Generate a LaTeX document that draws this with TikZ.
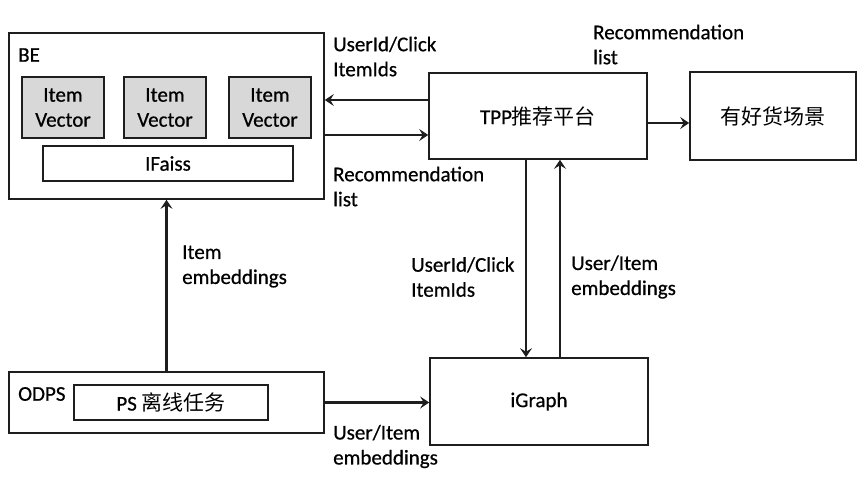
\documentclass[tikz,border=0pt]{standalone}
\usepackage{fontspec}
\setmainfont{Carlito}[FakeBold=0.6]
\newfontfamily\cjk{Noto Sans CJK SC}
\usetikzlibrary{arrows.meta}
\definecolor{ln}{HTML}{1E1E1E}
\definecolor{vecfill}{HTML}{D8D8D8}
\begin{document}
\begin{tikzpicture}[x=1pt,y=-1pt,
  every node/.style={font=\fontsize{21pt}{25pt}\selectfont, text=black},
  box/.style={draw=ln, line width=1.6pt, inner sep=0pt, fill=white},
  vecbox/.style={box, fill=vecfill, minimum width=82pt, minimum height=61pt, align=center},
  lbl/.style={anchor=west, align=left, inner sep=0pt},
  arr/.style={draw=ln, line width=2.4pt, -{Stealth[length=9pt,width=12pt,inset=3.5pt]}}]
\useasboundingbox (0,0) rectangle (865,485);
\fill[white] (0,0) rectangle (865,485);

% BE
\node[box, minimum width=315pt, minimum height=166pt] (be) at (166.5,116) {};
\node[lbl] (betxt) at (18,55) {BE};
\node[vecbox] (v1) at (63,107.5) {Item\\Vector};
\node[vecbox] (v2) at (165,107.5) {Item\\Vector};
\node[vecbox] (v3) at (270,107.5) {Item\\Vector};
\node[box, minimum width=250pt, minimum height=35pt] (ifaiss) at (168,163.5) {IFaiss};

% TPP and scene
\node[box, minimum width=218pt, minimum height=86pt] (tpp) at (538,116) {TPP{\cjk 推荐平台}};
\node[box, minimum width=166pt, minimum height=88pt] (scene) at (773,116) {{\cjk 有好货场景}};

% iGraph
\node[box, minimum width=218pt, minimum height=87pt] (ig) at (539,401.5) {iGraph};

% ODPS
\node[box, minimum width=315pt, minimum height=61pt] (odps) at (166.5,402.5) {};
\node[lbl] (odpstxt) at (18,394) {ODPS};
\node[box, minimum width=194pt, minimum height=35pt] (ps) at (171,402.5) {PS {\cjk 离线任务}};

% arrows
\draw[arr] ([yshift=16pt]tpp.west) -- ([yshift=16pt]be.east |- tpp.west);
\draw[arr] ([yshift=-19pt]be.east |- tpp.west) -- ([yshift=-19pt]tpp.west);
\draw[arr] ([yshift=-7pt]tpp.east) -- ([yshift=-7pt]scene.west |- tpp.east);
\draw[arr] ([xshift=-12pt]tpp.south) -- ([xshift=-12pt]tpp.south |- ig.north);
\draw[arr] ([xshift=21pt]ig.north) -- ([xshift=21pt]ig.north |- tpp.south);
\draw[arr] (odps.north) -- (odps.north |- be.south);
\draw[arr] (odps.east) -- (odps.east -| ig.west);

% labels
\node[lbl] (l1) at (333,56.5) {UserId/Click\\ItemIds};
\node[lbl] (l2) at (333,186.5) {Recommendation\\list};
\node[lbl] (l3) at (593,44.5) {Recommendation\\list};
\node[lbl] (l4) at (182,266.5) {Item\\embeddings};
\node[lbl] (l5) at (411,277) {UserId/Click\\ItemIds};
\node[lbl] (l6) at (571,277) {User/Item\\embeddings};
\node[lbl] (l7) at (333,446.5) {User/Item\\embeddings};
\end{tikzpicture}
\end{document}
